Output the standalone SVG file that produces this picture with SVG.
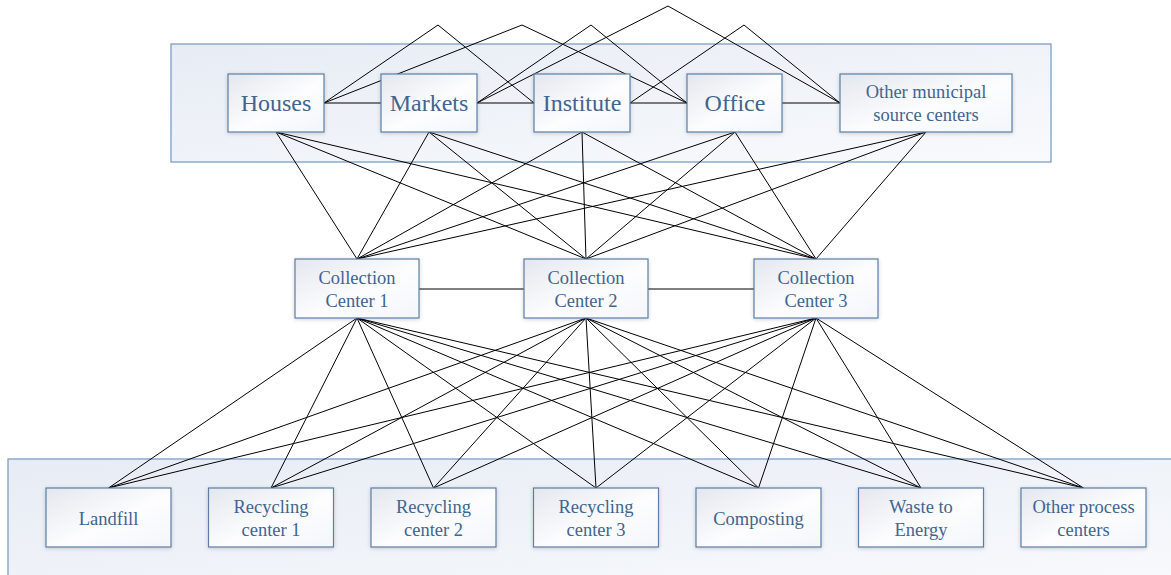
<svg xmlns="http://www.w3.org/2000/svg" width="1171" height="575" viewBox="0 0 1171 575">
  <defs>
    <linearGradient id="boxFill" x1="0" y1="0" x2="1" y2="1">
      <stop offset="0" stop-color="#e3e7ee"/>
      <stop offset="0.55" stop-color="#fdfdfe"/>
      <stop offset="1" stop-color="#f3f6fa"/>
    </linearGradient>
    <linearGradient id="bandFill" x1="0" y1="0" x2="1" y2="1">
      <stop offset="0" stop-color="#e7ecf4"/>
      <stop offset="1" stop-color="#f8fafd"/>
    </linearGradient>
    <filter id="soft" x="-10%" y="-10%" width="120%" height="130%">
      <feGaussianBlur in="SourceAlpha" stdDeviation="2"/>
      <feOffset dx="0" dy="1" result="b"/>
      <feComponentTransfer><feFuncA type="linear" slope="0.18"/></feComponentTransfer>
      <feMerge><feMergeNode/><feMergeNode in="SourceGraphic"/></feMerge>
    </filter>
    <style>
      .band { fill: url(#bandFill); stroke: #7d9ec6; stroke-width: 1.3; }
      .box { fill: url(#boxFill); stroke: #5b7ea6; stroke-width: 1.2; filter: url(#soft); }
      .lbl { font-family: "Liberation Serif", "Times New Roman", serif; fill: #3f6590; text-anchor: middle; }
      .big { font-size: 24px; }
      .mid { font-size: 18.5px; }
      .wire { fill: none; stroke: #000; stroke-width: 1; }
    </style>
  </defs>

  <!-- background bands -->
  <rect class="band" x="171" y="44" width="880" height="118"/>
  <rect class="band" x="8" y="459" width="1175" height="130"/>

  <!-- connectors -->
  <g id="connectors" class="wire">
    <!-- source tier: neighbours -->
    <line x1="324" y1="103" x2="381" y2="103"/>
    <line x1="477" y1="103" x2="534" y2="103"/>
    <line x1="630" y1="103" x2="687" y2="103"/>
    <line x1="782" y1="103" x2="840" y2="103"/>
    <!-- source tier: bridges over the row -->
    <polyline points="324,103 438,25 534,103"/>
    <polyline points="324,103 522,25 687,103"/>
    <polyline points="477,103 591,25 687,103"/>
    <polyline points="477,103 668,6 840,103"/>
    <polyline points="630,103 744,25 840,103"/>
    <!-- sources to collection centers -->
    <line x1="276" y1="132" x2="357" y2="259"/>
    <line x1="276" y1="132" x2="586" y2="259"/>
    <line x1="276" y1="132" x2="816" y2="259"/>
    <line x1="429" y1="132" x2="357" y2="259"/>
    <line x1="429" y1="132" x2="586" y2="259"/>
    <line x1="429" y1="132" x2="816" y2="259"/>
    <line x1="582" y1="132" x2="357" y2="259"/>
    <line x1="582" y1="132" x2="586" y2="259"/>
    <line x1="582" y1="132" x2="816" y2="259"/>
    <line x1="735" y1="132" x2="357" y2="259"/>
    <line x1="735" y1="132" x2="586" y2="259"/>
    <line x1="735" y1="132" x2="816" y2="259"/>
    <line x1="926" y1="132" x2="357" y2="259"/>
    <line x1="926" y1="132" x2="586" y2="259"/>
    <line x1="926" y1="132" x2="816" y2="259"/>
    <!-- collection centers chain -->
    <line x1="419" y1="289" x2="524" y2="289"/>
    <line x1="648" y1="289" x2="754" y2="289"/>
    <!-- collection centers to processing -->
    <line x1="357" y1="318" x2="108.5" y2="488"/>
    <line x1="357" y1="318" x2="271" y2="488"/>
    <line x1="357" y1="318" x2="433.5" y2="488"/>
    <line x1="357" y1="318" x2="596" y2="488"/>
    <line x1="357" y1="318" x2="758.5" y2="488"/>
    <line x1="357" y1="318" x2="921" y2="488"/>
    <line x1="357" y1="318" x2="1083.5" y2="488"/>
    <line x1="586" y1="318" x2="108.5" y2="488"/>
    <line x1="586" y1="318" x2="271" y2="488"/>
    <line x1="586" y1="318" x2="433.5" y2="488"/>
    <line x1="586" y1="318" x2="596" y2="488"/>
    <line x1="586" y1="318" x2="758.5" y2="488"/>
    <line x1="586" y1="318" x2="921" y2="488"/>
    <line x1="586" y1="318" x2="1083.5" y2="488"/>
    <line x1="816" y1="318" x2="108.5" y2="488"/>
    <line x1="816" y1="318" x2="271" y2="488"/>
    <line x1="816" y1="318" x2="433.5" y2="488"/>
    <line x1="816" y1="318" x2="596" y2="488"/>
    <line x1="816" y1="318" x2="758.5" y2="488"/>
    <line x1="816" y1="318" x2="921" y2="488"/>
    <line x1="816" y1="318" x2="1083.5" y2="488"/>
  </g>

  <!-- source centers -->
  <g id="houses"><rect class="box" x="228" y="74" width="96" height="58"/><text class="lbl big" x="276" y="111">Houses</text></g>
  <g id="markets"><rect class="box" x="381" y="74" width="96" height="58"/><text class="lbl big" x="429" y="111">Markets</text></g>
  <g id="institute"><rect class="box" x="534" y="74" width="96" height="58"/><text class="lbl big" x="582" y="111">Institute</text></g>
  <g id="office"><rect class="box" x="687" y="74" width="95" height="58"/><text class="lbl big" x="735" y="111">Office</text></g>
  <g id="other-municipal"><rect class="box" x="840" y="74" width="172" height="58"/><text class="lbl mid" x="926" y="98">Other municipal</text><text class="lbl mid" x="926" y="121">source centers</text></g>

  <!-- collection centers -->
  <g id="collection-1"><rect class="box" x="295" y="259" width="124" height="59"/><text class="lbl mid" x="357" y="284">Collection</text><text class="lbl mid" x="357" y="307">Center 1</text></g>
  <g id="collection-2"><rect class="box" x="524" y="259" width="124" height="59"/><text class="lbl mid" x="586" y="284">Collection</text><text class="lbl mid" x="586" y="307">Center 2</text></g>
  <g id="collection-3"><rect class="box" x="754" y="259" width="124" height="59"/><text class="lbl mid" x="816" y="284">Collection</text><text class="lbl mid" x="816" y="307">Center 3</text></g>

  <!-- processing and disposal -->
  <g id="landfill"><rect class="box" x="46" y="488" width="125" height="59"/><text class="lbl mid" x="108.5" y="525">Landfill</text></g>
  <g id="recycling-1"><rect class="box" x="208.5" y="488" width="125" height="59"/><text class="lbl mid" x="271" y="513">Recycling</text><text class="lbl mid" x="271" y="536">center 1</text></g>
  <g id="recycling-2"><rect class="box" x="371" y="488" width="125" height="59"/><text class="lbl mid" x="433.5" y="513">Recycling</text><text class="lbl mid" x="433.5" y="536">center 2</text></g>
  <g id="recycling-3"><rect class="box" x="533.5" y="488" width="125" height="59"/><text class="lbl mid" x="596" y="513">Recycling</text><text class="lbl mid" x="596" y="536">center 3</text></g>
  <g id="composting"><rect class="box" x="696" y="488" width="125" height="59"/><text class="lbl mid" x="758.5" y="525">Composting</text></g>
  <g id="waste-to-energy"><rect class="box" x="858.5" y="488" width="125" height="59"/><text class="lbl mid" x="921" y="513">Waste to</text><text class="lbl mid" x="921" y="536">Energy</text></g>
  <g id="other-process"><rect class="box" x="1021" y="488" width="125" height="59"/><text class="lbl mid" x="1083.5" y="513">Other process</text><text class="lbl mid" x="1083.5" y="536">centers</text></g>
</svg>
